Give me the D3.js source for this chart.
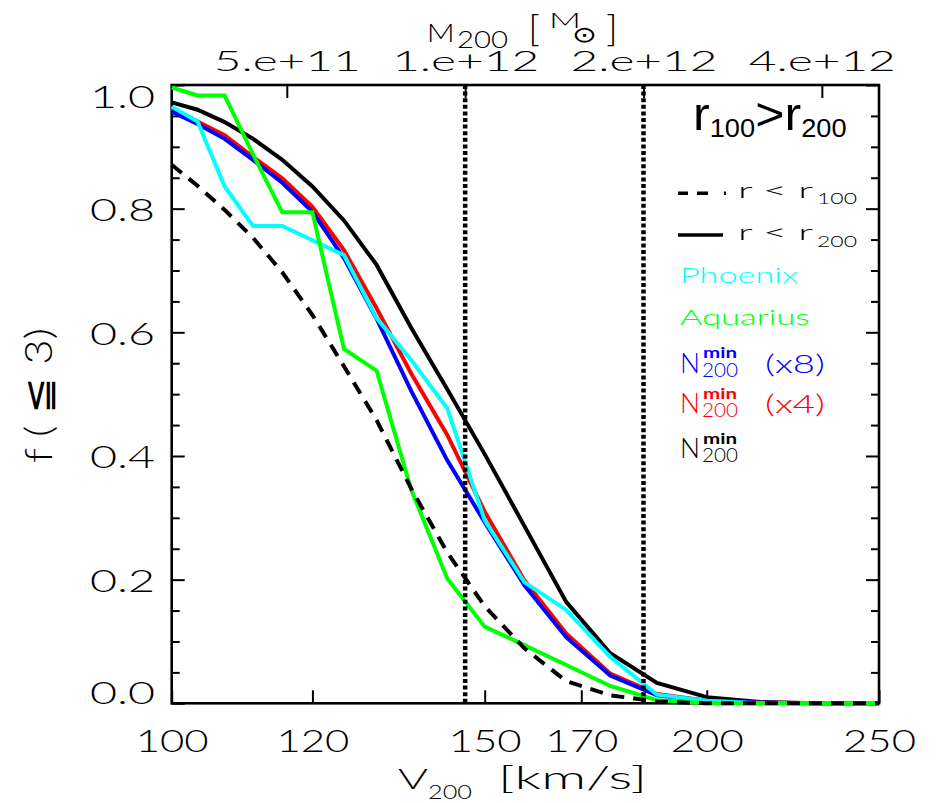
<!DOCTYPE html>
<html><head><meta charset="utf-8">
<script src="https://cdn.jsdelivr.net/npm/d3@7"></script>
<style>
body{margin:0;background:#fff;}
svg{display:block;}
text{font-family:Lato,"DejaVu Sans",sans-serif;font-weight:300;}
</style>
</head><body>
<svg id="c" width="937" height="803"></svg>
<script>
// ---------------- data ----------------
const velocity = [100, 103.4, 107.1, 111.1, 115.4, 120, 125, 130.4, 136.4, 142.9, 150, 157.9, 166.7, 176.5, 187.5, 200, 214.3, 230.8, 250];
const fR200     = [0.972, 0.960, 0.940, 0.913, 0.879, 0.836, 0.781, 0.709, 0.607, 0.508, 0.403, 0.287, 0.164, 0.081, 0.033, 0.010, 0.002, 0, 0];
const fR100     = [0.871, 0.837, 0.798, 0.753, 0.697, 0.628, 0.545, 0.458, 0.347, 0.244, 0.157, 0.089, 0.036, 0.013, 0.003, 0, 0, 0, 0];
const fPhoenix  = [0.965, 0.941, 0.836, 0.772, 0.772, 0.749, 0.725, 0.623, 0.555, 0.477, 0.296, 0.196, 0.151, 0.075, 0.014, 0.004, 0, 0, 0];
const fAquarius = [0.996, 0.983, 0.983, 0.888, 0.794, 0.794, 0.573, 0.538, 0.345, 0.202, 0.124, 0.094, 0.062, 0.028, 0.005, 0, 0, 0, 0];
const fNmin8    = [0.957, 0.937, 0.913, 0.879, 0.842, 0.795, 0.720, 0.622, 0.505, 0.393, 0.293, 0.191, 0.107, 0.045, 0.013, 0.004, 0.001, 0, 0];
const fNmin4    = [0.962, 0.941, 0.919, 0.884, 0.849, 0.803, 0.733, 0.639, 0.533, 0.434, 0.310, 0.199, 0.113, 0.048, 0.015, 0.004, 0.001, 0, 0];

const xTicks = [100, 120, 150, 170, 200, 250];
const yTicks = [0, 0.2, 0.4, 0.6, 0.8, 1.0];
const yMinorTicks = [0.05, 0.1, 0.15, 0.25, 0.3, 0.35, 0.45, 0.5, 0.55, 0.65, 0.7, 0.75, 0.85, 0.9, 0.95];
const massTicks = [5e11, 1e12, 2e12, 4e12];
const massTickLabels = ["5.e+11", "1.e+12", "2.e+12", "4.e+12"];
const vAtM12 = 146.25;           // V200 [km/s] of a 1e12 Msun halo
const refMasses = [1e12, 2e12];  // dotted vertical lines

// ---------------- layout ----------------
const svg = d3.select("#c");
const L = 171.7, R = 879, T = 85, B = 703.3;
const x = d3.scaleLog().domain([100, 250]).range([L, R]);
const y = d3.scaleLinear().domain([0, 1]).range([B, T]);
const massOf = v => 1e12 * Math.pow(v / vAtM12, 3);
const xm = d3.scaleLog().domain([massOf(100), massOf(250)]).range([L, R]);

function clean(g) {
  g.select(".domain").remove();
  g.attr("font-family", null).attr("fill", null);
  g.selectAll(".tick line").attr("stroke", "#000").attr("stroke-width", 2);
  g.selectAll(".tick text").attr("fill", "#000");
}

// frame
svg.append("rect").attr("x", L).attr("y", T).attr("width", R - L).attr("height", B - T)
  .attr("fill", "none").attr("stroke", "#000").attr("stroke-width", 2.6);

// bottom axis
const gB = svg.append("g").attr("transform", `translate(0,${B})`)
  .call(d3.axisBottom(x).tickValues(xTicks).tickSize(-13).tickSizeOuter(0).tickFormat(d3.format("d")));
clean(gB);
gB.attr("font-size", 32);
gB.selectAll(".tick text").attr("y", 48.5).attr("dy", 0)
  .attr("textLength", 73).attr("lengthAdjust", "spacingAndGlyphs");

// top axis (mass)
const gT = svg.append("g").attr("transform", `translate(0,${T})`)
  .call(d3.axisTop(xm).tickValues(massTicks).tickSize(-13).tickSizeOuter(0)
    .tickFormat((d, i) => massTickLabels[i]));
clean(gT);
gT.attr("font-size", 27);
gT.selectAll(".tick text").attr("y", -14.5).attr("dy", 0)
  .attr("textLength", 147).attr("lengthAdjust", "spacingAndGlyphs");

// left axis
const gL = svg.append("g").attr("transform", `translate(${L},0)`)
  .call(d3.axisLeft(y).tickValues(yTicks).tickSize(-13).tickSizeOuter(0).tickFormat(d3.format(".1f")));
clean(gL);
gL.attr("font-size", 32);
gL.selectAll(".tick text").attr("x", -16.7).attr("dy", 0)
  .attr("y", d => d === 1 ? 22 : (d === 0 ? 0 : 12))
  .attr("textLength", 65).attr("lengthAdjust", "spacingAndGlyphs");
const gLm = svg.append("g").attr("transform", `translate(${L},0)`)
  .call(d3.axisLeft(y).tickValues(yMinorTicks).tickSize(-8).tickSizeOuter(0).tickFormat(""));
clean(gLm);

// right axis
const gR = svg.append("g").attr("transform", `translate(${R},0)`)
  .call(d3.axisRight(y).tickValues(yTicks).tickSize(-13).tickSizeOuter(0).tickFormat(""));
clean(gR);
const gRm = svg.append("g").attr("transform", `translate(${R},0)`)
  .call(d3.axisRight(y).tickValues(yMinorTicks).tickSize(-8).tickSizeOuter(0).tickFormat(""));
clean(gRm);

// ---------------- curves ----------------
const line = d3.line().x((d, i) => x(velocity[i])).y(d => y(d));
const series = [
  { values: fR200,     color: "#000000", dash: null },
  { values: fNmin4,    color: "#ff0000", dash: null },
  { values: fNmin8,    color: "#0000ff", dash: null },
  { values: fPhoenix,  color: "#00ffff", dash: null },
  { values: fAquarius, color: "#00ff00", dash: null },
  { values: fR100,     color: "#000000", dash: "13,9" }
];
svg.append("g").selectAll("path").data(series).join("path")
  .attr("d", d => line(d.values))
  .attr("fill", "none")
  .attr("stroke", d => d.color)
  .attr("stroke-width", 4)
  .attr("stroke-dasharray", d => d.dash);

// dotted reference lines
svg.append("g").selectAll("line").data(refMasses).join("line")
  .attr("x1", d => xm(d)).attr("x2", d => xm(d))
  .attr("y1", T).attr("y2", B)
  .attr("stroke", "#000").attr("stroke-width", 4.5).attr("stroke-dasharray", "4,2.6");

// ---------------- titles ----------------
function txt(s, px, py, size, len, color, extra) {
  const t = svg.append("text").attr("x", px).attr("y", py).attr("font-size", size)
    .attr("fill", color || "#000").text(s);
  if (len) t.attr("textLength", len).attr("lengthAdjust", "spacingAndGlyphs");
  if (extra) extra(t);
  return t;
}
// x title
txt("V", 398, 789, 28, 30);
txt("200", 428, 798.5, 20, 44);
txt("[km/s]", 498, 789, 32, 149);
// top title
txt("M", 426.7, 41.7, 26, 28);
txt("200", 457, 48.3, 23, 51);
txt("[", 528, 41, 36, 12);
txt("M", 549, 28, 21, 32);
txt("⊙", 572, 42, 22, 25, null, t => t.style("font-family", "DejaVu Sans").style("font-weight", 400));
txt("]", 606, 41, 36, 12);
// y title
svg.append("text").attr("transform", "translate(52,463) rotate(-90)")
  .attr("font-size", 38).attr("textLength", 135).attr("lengthAdjust", "spacingAndGlyphs")
  .attr("fill", "#000").text("f ( ≦ 3)");

// ---------------- legend ----------------
const gH = svg.append("g").attr("transform", "translate(693,130) scale(1.09,1)");
const ht = gH.append("text").attr("fill", "#000")
  .style("font-family", "Liberation Sans").style("font-weight", 400);
ht.append("tspan").attr("font-size", 46).text("r");
ht.append("tspan").attr("font-size", 25).attr("dy", 7).text("100");
ht.append("tspan").attr("font-size", 46).attr("dy", -7).text(">");
ht.append("tspan").attr("font-size", 46).text("r");
ht.append("tspan").attr("font-size", 25).attr("dy", 7).text("200");

svg.append("line").attr("x1", 678).attr("x2", 727).attr("y1", 193.3).attr("y2", 193.3)
  .attr("stroke", "#000").attr("stroke-width", 3.5).attr("stroke-dasharray", "10,9,11,16,2");
txt("r < r", 738, 198, 22, 75);
txt("100", 817, 203.5, 16, 40);
svg.append("line").attr("x1", 678).attr("x2", 723).attr("y1", 235).attr("y2", 235)
  .attr("stroke", "#000").attr("stroke-width", 3.5);
txt("r < r", 738, 240, 22, 75);
txt("200", 817, 246.5, 16, 40);

txt("Phoenix", 680, 283, 21, 118, "#00ffff");
txt("Aquarius", 680, 325, 21, 130, "#00ff00");

const nEntries = [
  { base: 372.7, color: "#0000ff", factor: "(x8)" },
  { base: 413.3, color: "#ff0000", factor: "(x4)" },
  { base: 458.3, color: "#000000", factor: null }
];
nEntries.forEach(e => {
  txt("N", 680, e.base, 27, 20, e.color);
  txt("min", 703, e.base - 14.5, 15, 34, e.color, t => t.style("font-weight", 700));
  txt("200", 702, e.base + 3.8, 19, 36, e.color);
  if (e.factor) txt(e.factor, 765, e.base, 25, 60, e.color);
});
</script>
</body></html>
